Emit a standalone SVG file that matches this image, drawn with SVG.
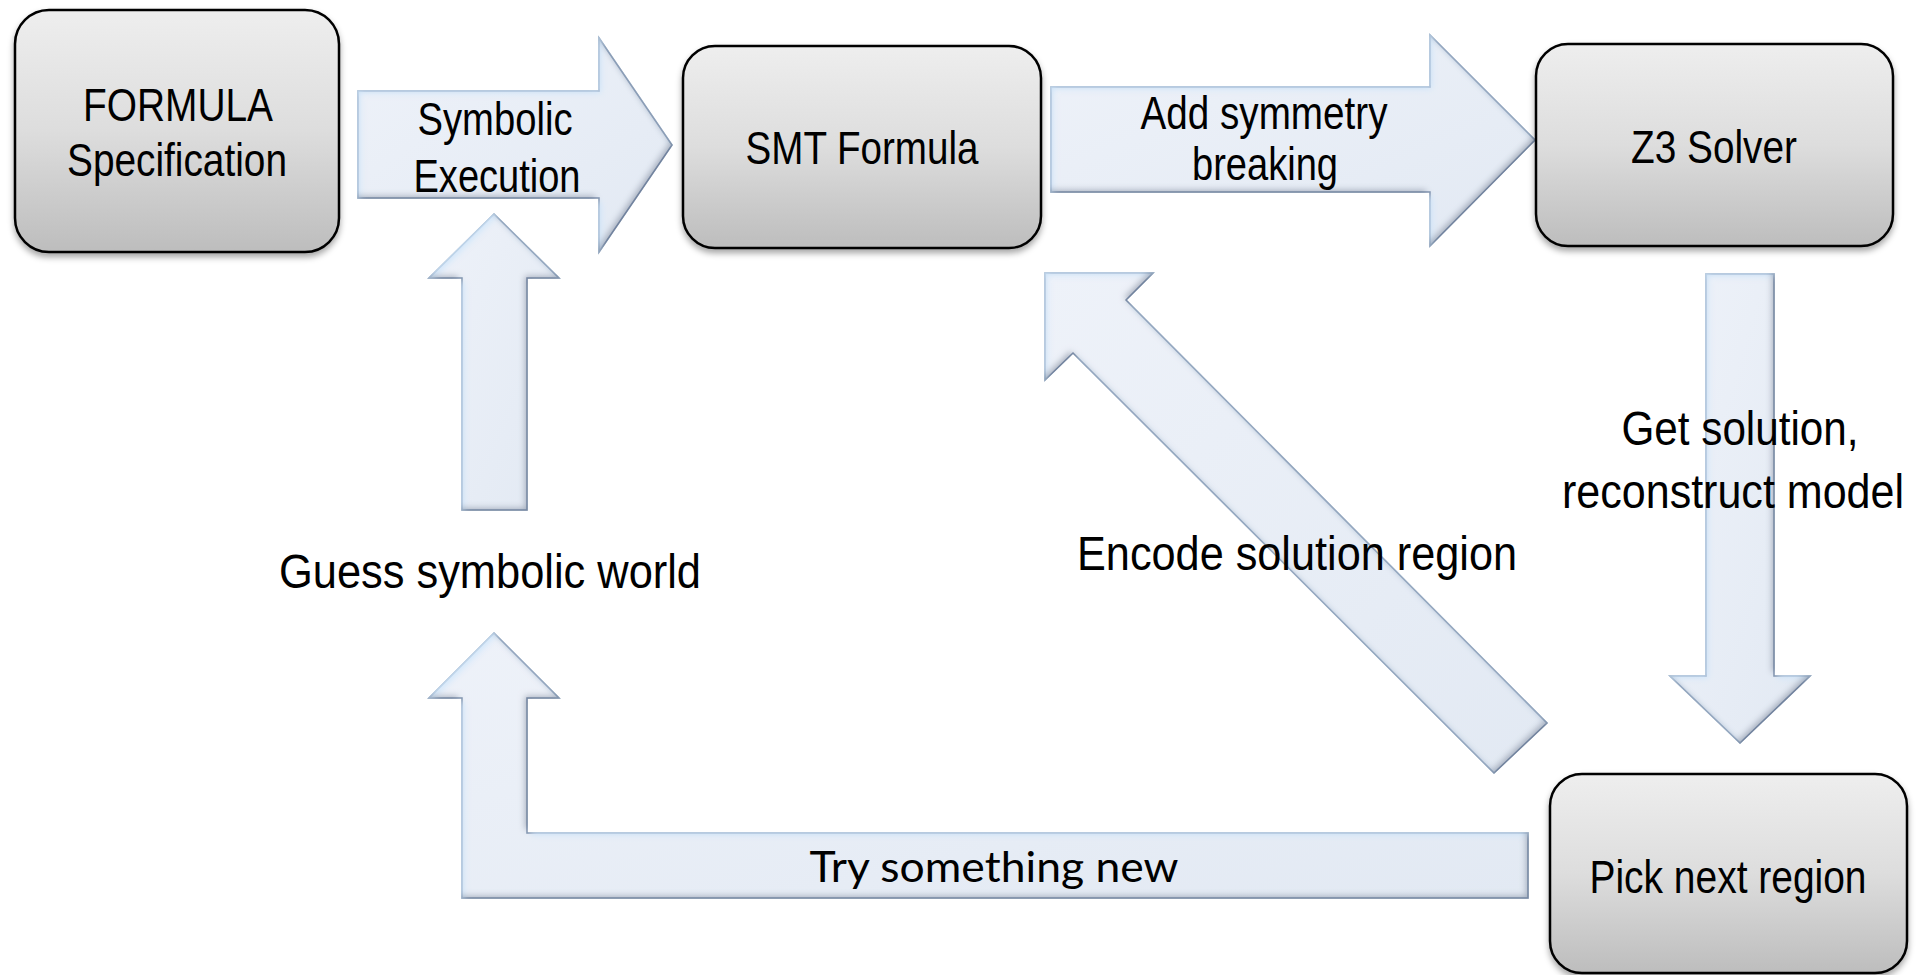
<svg xmlns="http://www.w3.org/2000/svg" width="1916" height="975" viewBox="0 0 1916 975">
<defs>
<linearGradient id="boxGrad" x1="0" y1="0" x2="0" y2="1">
<stop offset="0" stop-color="#eeeeee"/>
<stop offset="0.5" stop-color="#dddddd"/>
<stop offset="1" stop-color="#bdbdbd"/>
</linearGradient>
<linearGradient id="arrGrad" x1="0" y1="0" x2="1" y2="1">
<stop offset="0" stop-color="#eef2f9"/>
<stop offset="1" stop-color="#e2e9f3"/>
</linearGradient>
<filter id="shadow" x="-10%" y="-10%" width="120%" height="130%">
<feDropShadow dx="0" dy="4" stdDeviation="3" flood-color="#000" flood-opacity="0.35"/>
</filter>
<filter id="bevel" x="-5%" y="-5%" width="110%" height="110%">
<feGaussianBlur in="SourceAlpha" stdDeviation="3" result="b"/>
<feOffset in="b" dx="-3" dy="-3" result="o1"/>
<feComposite in="SourceAlpha" in2="o1" operator="out" result="edge"/>
<feFlood flood-color="#5f6f8a" flood-opacity="0.6"/>
<feComposite in2="edge" operator="in" result="dark"/>
<feOffset in="b" dx="3" dy="3" result="o2"/>
<feComposite in="SourceAlpha" in2="o2" operator="out" result="edge2"/>
<feFlood flood-color="#cfe6fb" flood-opacity="0.9"/>
<feComposite in2="edge2" operator="in" result="light"/>
<feMerge><feMergeNode in="SourceGraphic"/><feMergeNode in="light"/><feMergeNode in="dark"/></feMerge>
</filter>
</defs>
<style>
.box{fill:url(#boxGrad);stroke:#000;stroke-width:2.5;filter:url(#shadow)}
.arr{fill:url(#arrGrad);stroke:#7d8fab;stroke-width:1.5;stroke-linejoin:miter;filter:url(#bevel)}
.t{font-family:"Liberation Sans Narrow","Liberation Sans",Arial,sans-serif;fill:#000;text-anchor:middle}
.c{font-family:Lato,"Open Sans","Liberation Sans",sans-serif;fill:#000;text-anchor:middle}
</style>
<rect width="1916" height="975" fill="#fff"/>
<g id="connectors">
<polygon class="arr" points="358,91 599,91 599,38 672,145 599,252 599,198 358,198"/>
<polygon class="arr" points="1051,87 1430,87 1430,35 1535,140 1430,246 1430,192 1051,192"/>
<polygon class="arr" points="494,214 559,278 527,278 527,510 462,510 462,278 429,278"/>
<polygon class="arr" points="494,633 559,698 527,698 527,833 1528,833 1528,898 462,898 462,698 429,698"/>
<polygon class="arr" points="1706,274 1774,274 1774,676 1810,676 1740,743 1670,676 1706,676"/>
<polygon class="arr" points="1045,273 1153,273 1126,300 1547,723 1494,773 1073,353 1045,380"/>
<text class="t" font-size="47" x="495" y="135" textLength="155" lengthAdjust="spacingAndGlyphs">Symbolic</text>
<text class="t" font-size="47" x="497" y="192" textLength="167" lengthAdjust="spacingAndGlyphs">Execution</text>
<text class="t" font-size="47" x="1264" y="129" textLength="247" lengthAdjust="spacingAndGlyphs">Add symmetry</text>
<text class="t" font-size="47" x="1265" y="180" textLength="146" lengthAdjust="spacingAndGlyphs">breaking</text>
<text class="t" font-size="48" x="1740" y="445" textLength="237" lengthAdjust="spacingAndGlyphs">Get solution,</text>
<text class="t" font-size="48" x="1904" y="508" textLength="342" lengthAdjust="spacingAndGlyphs" style="text-anchor:end">reconstruct model</text>
<text class="t" font-size="48" x="1297" y="570" textLength="440" lengthAdjust="spacingAndGlyphs">Encode solution region</text>
<text class="t" font-size="48" x="490" y="588" textLength="422" lengthAdjust="spacingAndGlyphs">Guess symbolic world</text>
<text class="c" font-size="42" x="994" y="882" textLength="369" lengthAdjust="spacingAndGlyphs">Try something new</text>
</g>
<g id="node-formula">
<rect class="box" x="15" y="10" width="324" height="242" rx="34" ry="34"/>
<text class="t" font-size="46" x="178" y="121" textLength="190" lengthAdjust="spacingAndGlyphs">FORMULA</text>
<text class="t" font-size="46" x="177" y="176" textLength="220" lengthAdjust="spacingAndGlyphs">Specification</text>
</g>
<g id="node-smt">
<rect class="box" x="683" y="46" width="358" height="202" rx="32" ry="32"/>
<text class="t" font-size="46" x="862" y="164" textLength="233" lengthAdjust="spacingAndGlyphs">SMT Formula</text>
</g>
<g id="node-z3">
<rect class="box" x="1536" y="44" width="357" height="202" rx="32" ry="32"/>
<text class="t" font-size="46" x="1714" y="163" textLength="166" lengthAdjust="spacingAndGlyphs">Z3 Solver</text>
</g>
<g id="node-pick">
<rect class="box" x="1550" y="774" width="357" height="199" rx="32" ry="32"/>
<text class="t" font-size="46" x="1728" y="893" textLength="277" lengthAdjust="spacingAndGlyphs">Pick next region</text>
</g>
</svg>
